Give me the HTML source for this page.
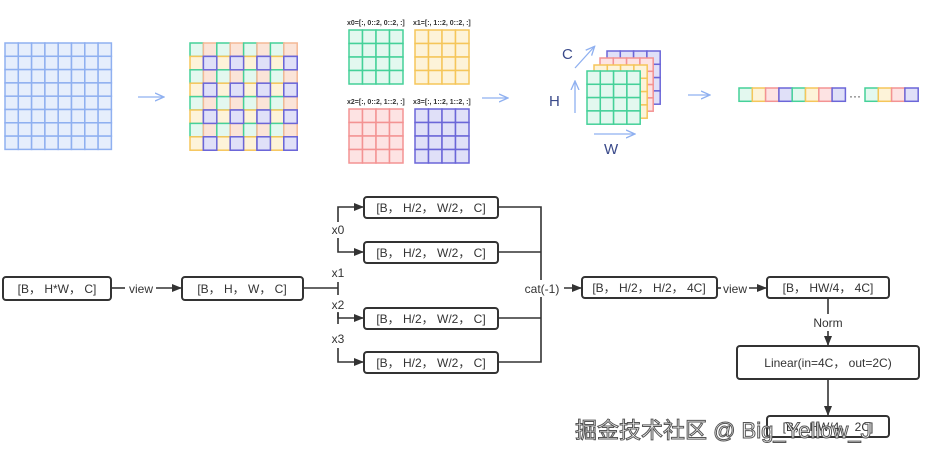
<!DOCTYPE html>
<html><head><meta charset="utf-8"><style>
html,body{margin:0;padding:0;background:#fff;}
svg{display:block;font-family:"Liberation Sans","Noto Sans CJK SC",sans-serif;}
</style></head><body>
<svg id="s" width="934" height="460" viewBox="0 0 934 460" xmlns="http://www.w3.org/2000/svg">
<defs>
<marker id="ab" markerWidth="10" markerHeight="10" refX="9" refY="5" orient="auto" markerUnits="userSpaceOnUse"><path d="M0,1 L10,5 L0,9 Z" fill="#333"/></marker>
<marker id="al" markerWidth="10" markerHeight="10" refX="8" refY="5" orient="auto" markerUnits="userSpaceOnUse"><path d="M0,1 L9,5 L0,9" fill="none" stroke="#8fb0f0" stroke-width="1.3"/></marker>
</defs>
<g id="grids"></g>
<g font-size="7" fill="#333" font-weight="bold">
<text x="347" y="25">x0=[:, 0::2, 0::2, :]</text>
<text x="413" y="25">x1=[:, 1::2, 0::2, :]</text>
<text x="347" y="104">x2=[:, 0::2, 1::2, :]</text>
<text x="413" y="104">x3=[:, 1::2, 1::2, :]</text>
</g>
<g stroke="#8fb0f0" stroke-width="1.3" fill="none" marker-end="url(#al)">
<line x1="138" y1="97" x2="163" y2="97"/>
<line x1="482" y1="98" x2="507" y2="98"/>
<line x1="688" y1="95" x2="709" y2="95"/>
<line x1="575" y1="113" x2="575" y2="82"/>
<line x1="594" y1="134" x2="634" y2="134"/>
<line x1="575" y1="68" x2="594" y2="47"/>
</g>
<g font-size="15" fill="#3a4a8a">
<text x="562" y="59">C</text><text x="549" y="106">H</text><text x="604" y="154">W</text>
</g>
<text x="849" y="100" font-size="12" fill="#333">···</text>
<g fill="#fff" stroke="#333" stroke-width="2">
<rect x="3" y="277" width="108" height="23" rx="3"/>
<rect x="182" y="277" width="121" height="23" rx="3"/>
<rect x="364" y="197" width="134" height="21" rx="3"/>
<rect x="364" y="242" width="134" height="21" rx="3"/>
<rect x="364" y="308" width="134" height="21" rx="3"/>
<rect x="364" y="352" width="134" height="21" rx="3"/>
<rect x="582" y="277" width="135" height="21" rx="3"/>
<rect x="767" y="277" width="122" height="21" rx="3"/>
<rect x="737" y="346" width="182" height="33" rx="3"/>
<rect x="767" y="416" width="122" height="21" rx="3"/>
</g>
<g stroke="#333" stroke-width="1.6" fill="none">
<polyline points="111,288 125,288"/>
<polyline points="156,288 181,288" marker-end="url(#ab)"/>
<polyline points="303,288 338,288"/>
<line x1="338" y1="282" x2="338" y2="295"/>
<polyline points="338,222 338,207 363,207" marker-end="url(#ab)"/>
<polyline points="338,238 338,252 363,252" marker-end="url(#ab)"/>
<polyline points="338,312 338,318 363,318" marker-end="url(#ab)"/>
<polyline points="338,348 338,362 363,362" marker-end="url(#ab)"/>
<line x1="338" y1="313" x2="338" y2="324"/>
<polyline points="498,207 541,207 541,280"/>
<polyline points="541,297 541,362 498,362"/>
<line x1="498" y1="252" x2="541" y2="252"/>
<line x1="498" y1="318" x2="541" y2="318"/>
<polyline points="564,288 581,288" marker-end="url(#ab)"/>
<polyline points="717,288 721,288"/>
<polyline points="749,288 766,288" marker-end="url(#ab)"/>
<polyline points="828,298 828,314"/>
<polyline points="828,331 828,345" marker-end="url(#ab)"/>
<polyline points="828,379 828,415" marker-end="url(#ab)"/>
</g>
<g font-size="12" fill="#333">
<text x="57" y="293" text-anchor="middle">[B， H*W， C]</text>
<text x="141" y="293" text-anchor="middle">view</text>
<text x="242" y="293" text-anchor="middle">[B， H， W， C]</text>
<text x="431" y="212" text-anchor="middle">[B， H/2， W/2， C]</text>
<text x="431" y="257" text-anchor="middle">[B， H/2， W/2， C]</text>
<text x="431" y="323" text-anchor="middle">[B， H/2， W/2， C]</text>
<text x="431" y="367" text-anchor="middle">[B， H/2， W/2， C]</text>
<text x="338" y="234" text-anchor="middle">x0</text>
<text x="338" y="277" text-anchor="middle">x1</text>
<text x="338" y="309" text-anchor="middle">x2</text>
<text x="338" y="343" text-anchor="middle">x3</text>
<text x="542" y="293" text-anchor="middle">cat(-1)</text>
<text x="649" y="292" text-anchor="middle">[B， H/2， H/2， 4C]</text>
<text x="735" y="293" text-anchor="middle">view</text>
<text x="828" y="292" text-anchor="middle">[B， HW/4， 4C]</text>
<text x="828" y="327" text-anchor="middle">Norm</text>
<text x="828" y="367" text-anchor="middle">Linear(in=4C， out=2C)</text>
<text x="828" y="431" text-anchor="middle">[B， HW/4， 2C]</text>
</g>
<text x="575" y="438" font-size="22" fill="#fff" stroke="#555" stroke-width="1">掘金技术社区 @ Big_Yellow_J</text>
</svg>
<script>
var g=document.getElementById('grids'),NS='http://www.w3.org/2000/svg';
var C={b:['#e6eefc','#8fb0f0'],g:['#e3f8ef','#45d199'],y:['#fdf3d9','#f5c65a'],r:['#fde3e3','#f39393'],p:['#e0e0f8','#6b66d8'],o:['#fbe4d8','#f4b896']};
function cell(x,y,s,c){var r=document.createElementNS(NS,'rect');r.setAttribute('x',x);r.setAttribute('y',y);r.setAttribute('width',s);r.setAttribute('height',s);r.setAttribute('fill',C[c][0]);r.setAttribute('stroke',C[c][1]);r.setAttribute('stroke-width',1.5);g.appendChild(r);}
function grid(x,y,n,s,f){for(var i=0;i<n;i++)for(var j=0;j<n;j++)cell(x+j*s,y+i*s,s,f(i,j));}
grid(5,43,8,13.3,function(){return 'b';});
var later=[];
grid(190,43,8,13.4,function(i,j){var c=i%2?(j%2?'p':'y'):(j%2?'o':'g');if(c=='p')later.push([190+j*13.4,43+i*13.4]);return c;});
later.forEach(function(p){cell(p[0],p[1],13.4,'p');});
grid(349,30,4,13.5,function(){return 'g';});
grid(415,30,4,13.5,function(){return 'y';});
grid(349,109,4,13.5,function(){return 'r';});
grid(415,109,4,13.5,function(){return 'p';});
grid(607,51,4,13.3,function(){return 'p';});
grid(600,58,4,13.3,function(){return 'r';});
grid(594,65,4,13.3,function(){return 'y';});
grid(587,71,4,13.3,function(){return 'g';});
var seq=['g','y','r','p'];
for(var k=0;k<8;k++)cell(739+k*13.3,88,13.3,seq[k%4]);
for(var k=0;k<4;k++)cell(865+k*13.3,88,13.3,seq[k]);
</script>
</body></html>
